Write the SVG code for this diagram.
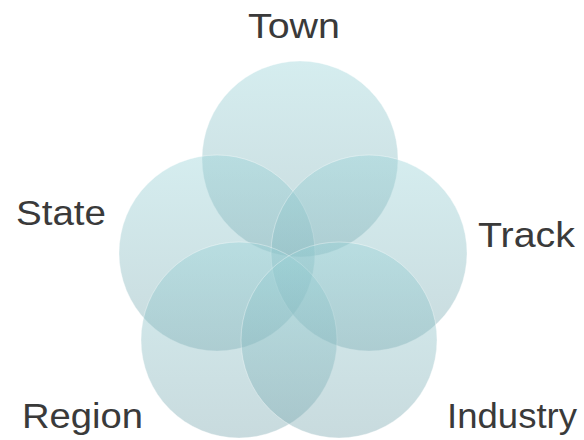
<svg xmlns="http://www.w3.org/2000/svg" width="584" height="440" viewBox="0 0 584 440">
  <defs>
    <linearGradient id="petal" x1="0" y1="0" x2="0" y2="1">
      <stop offset="0" stop-color="rgb(150,210,215)"/>
      <stop offset="1" stop-color="rgb(118,164,172)"/>
    </linearGradient>
  </defs>
  <style>
    .circle { fill: url(#petal); fill-opacity: 0.4; stroke: #ffffff; stroke-opacity: 0.35; stroke-width: 1; }
    .label { font-family: "Liberation Sans", "DejaVu Sans", sans-serif; font-size: 35px; fill: #3a3a3a; }
  </style>
  <rect width="584" height="440" fill="#ffffff"/>

  <g id="town">
    <circle class="circle" cx="300" cy="159" r="98"/>
    <text class="label" x="248" y="38" textLength="92" lengthAdjust="spacingAndGlyphs">Town</text>
  </g>
  <g id="state">
    <circle class="circle" cx="217" cy="253" r="98"/>
    <text class="label" x="16" y="225" textLength="90" lengthAdjust="spacingAndGlyphs">State</text>
  </g>
  <g id="track">
    <circle class="circle" cx="369" cy="253" r="98"/>
    <text class="label" x="478" y="247" textLength="97" lengthAdjust="spacingAndGlyphs">Track</text>
  </g>
  <g id="region">
    <circle class="circle" cx="239" cy="340" r="98"/>
    <text class="label" x="22" y="428" textLength="121" lengthAdjust="spacingAndGlyphs">Region</text>
  </g>
  <g id="industry">
    <circle class="circle" cx="339" cy="340" r="98"/>
    <text class="label" x="447" y="428" textLength="130" lengthAdjust="spacingAndGlyphs">Industry</text>
  </g>
  <g id="connectors"/>
</svg>
